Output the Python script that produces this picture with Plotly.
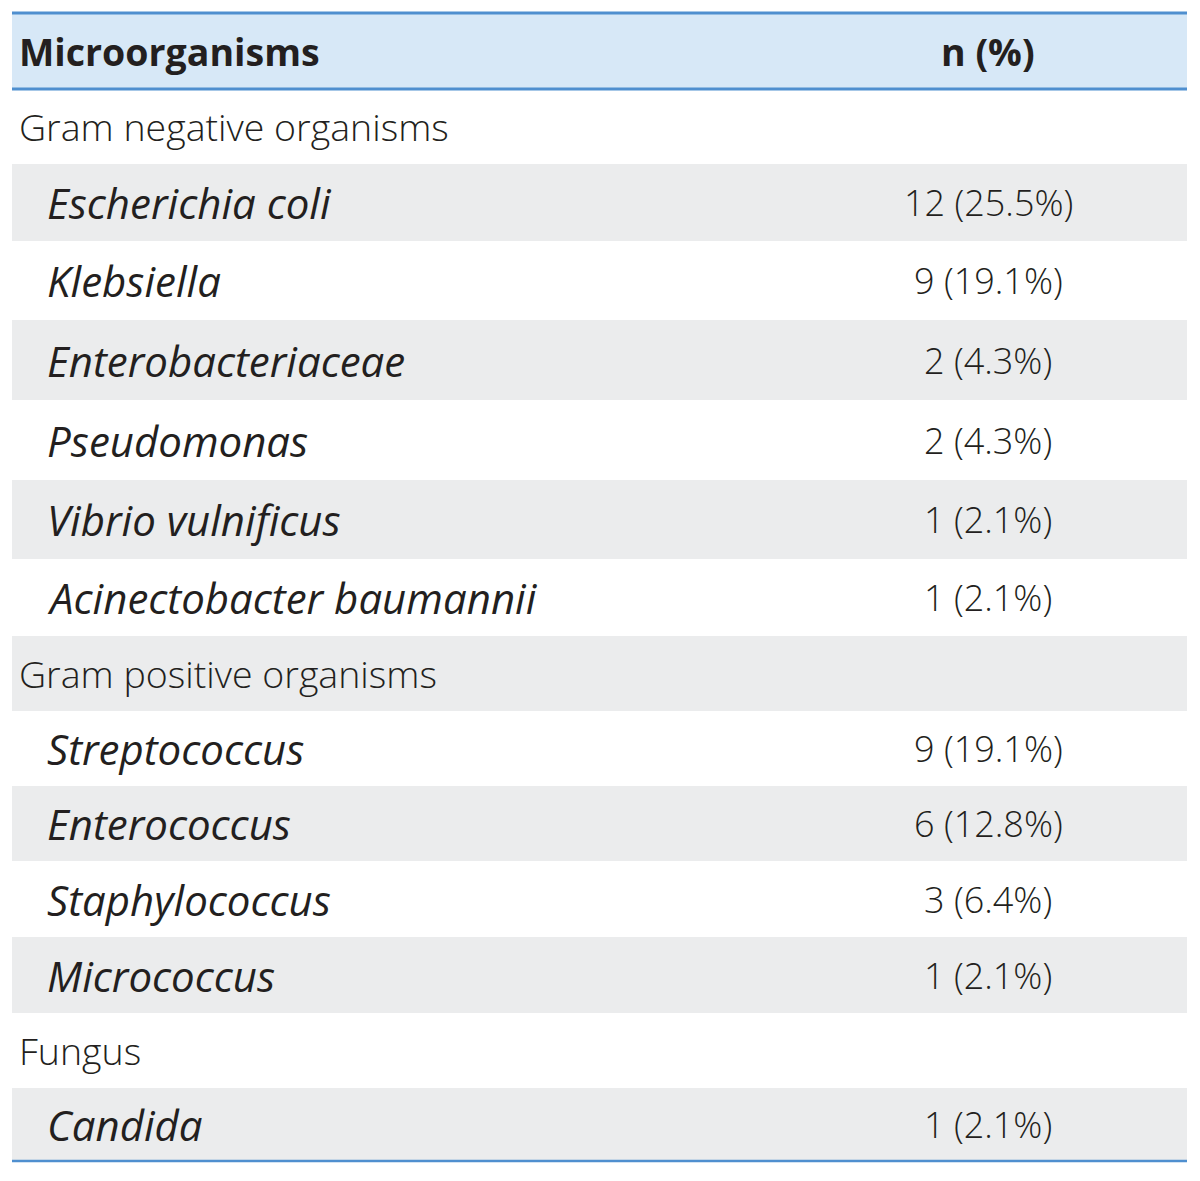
import numpy as np
import plotly.graph_objects as go

# ---------------- data ----------------
header = ["Microorganisms", "n (%)"]
labels = [
    "Gram negative organisms",
    "Escherichia coli",
    "Klebsiella",
    "Enterobacteriaceae",
    "Pseudomonas",
    "Vibrio vulnificus",
    "Acinectobacter baumannii",
    "Gram positive organisms",
    "Streptococcus",
    "Enterococcus",
    "Staphylococcus",
    "Micrococcus",
    "Fungus",
    "Candida",
]
is_group = [True, False, False, False, False, False, False,
            True, False, False, False, False,
            True, False]
counts = [None, 12, 9, 2, 2, 1, 1, None, 9, 6, 3, 1, None, 1]
percents = [None, 25.5, 19.1, 4.3, 4.3, 2.1, 2.1, None, 19.1, 12.8, 6.4, 2.1, None, 2.1]

# ---------------- layout / style ----------------
W, H = 1200, 1181
PAGE_OFF = 8  # body margin of the html page
row_heights = [76, 75, 77, 79, 80, 80, 79, 77, 75, 75, 75, 76, 76, 75, 73]  # header + rows (px)
table_top = 13
x_left, x_right = 12, 1187
label_x_group, label_x_item, label_x_header = 17, 45, 17
value_x = 988

HEADER_BG = "#d7e8f7"
STRIPE_BG = "#ebeced"
RULE = "#4f8fcf"
TEXT = "#231f20"
FONT = "Open Sans"
FS_HEADER = 37.5
FS_GROUP = 37.5
FS_ITEM = 42
FS_VALUE = 36

edges = table_top + np.concatenate([[0], np.cumsum(row_heights)])
centers = (edges[:-1] + edges[1:]) / 2

fig = go.Figure()
fig.add_trace(go.Scatter(x=[None], y=[None], showlegend=False, hoverinfo="skip"))

# header background
fig.add_shape(type="rect", xref="x", yref="y", x0=x_left, x1=x_right,
              y0=edges[0], y1=edges[1], fillcolor=HEADER_BG, line_width=0, layer="below")
# stripes
for i in range(len(labels)):
    if i % 2 == 1:
        fig.add_shape(type="rect", xref="x", yref="y", x0=x_left, x1=x_right,
                      y0=edges[i + 1], y1=edges[i + 2], fillcolor=STRIPE_BG,
                      line_width=0, layer="below")
# rules
for yv, wd in [(edges[0], 3), (edges[1], 3), (edges[-1], 2.5)]:
    fig.add_shape(type="line", xref="x", yref="y", x0=x_left, x1=x_right,
                  y0=yv, y1=yv, line=dict(color=RULE, width=wd))

# header text
fig.add_annotation(x=label_x_header, y=centers[0], xref="x", yref="y", text=header[0],
                   showarrow=False, xanchor="left", yanchor="middle",
                   font=dict(family=FONT, size=FS_HEADER, color=TEXT, weight="bold"))
fig.add_annotation(x=value_x, y=centers[0], xref="x", yref="y", text=header[1],
                   showarrow=False, xanchor="center", yanchor="middle",
                   font=dict(family=FONT, size=FS_HEADER, color=TEXT, weight="bold"))

# body
for i, lab in enumerate(labels):
    yc = centers[i + 1]
    if is_group[i]:
        fig.add_annotation(x=label_x_group, y=yc, xref="x", yref="y", text=lab,
                           showarrow=False, xanchor="left", yanchor="middle",
                           font=dict(family=FONT, size=FS_GROUP, color=TEXT, weight=300))
    else:
        fig.add_annotation(x=label_x_item, y=yc, xref="x", yref="y", text=lab,
                           showarrow=False, xanchor="left", yanchor="middle",
                           font=dict(family=FONT, size=FS_ITEM, color=TEXT, style="italic"))
    if counts[i] is not None:
        fig.add_annotation(x=value_x, y=yc, xref="x", yref="y",
                           text=f"{counts[i]} ({percents[i]}%)",
                           showarrow=False, xanchor="center", yanchor="middle",
                           font=dict(family=FONT, size=FS_VALUE, color=TEXT, weight=300))

fig.update_layout(
    width=W, height=H,
    margin=dict(l=0, r=0, t=0, b=0),
    paper_bgcolor="white", plot_bgcolor="white",
    xaxis=dict(range=[PAGE_OFF, W + PAGE_OFF], visible=False, fixedrange=True),
    yaxis=dict(range=[H + PAGE_OFF, PAGE_OFF], visible=False, fixedrange=True),
    showlegend=False,
)

fig.write_html("out.html")
